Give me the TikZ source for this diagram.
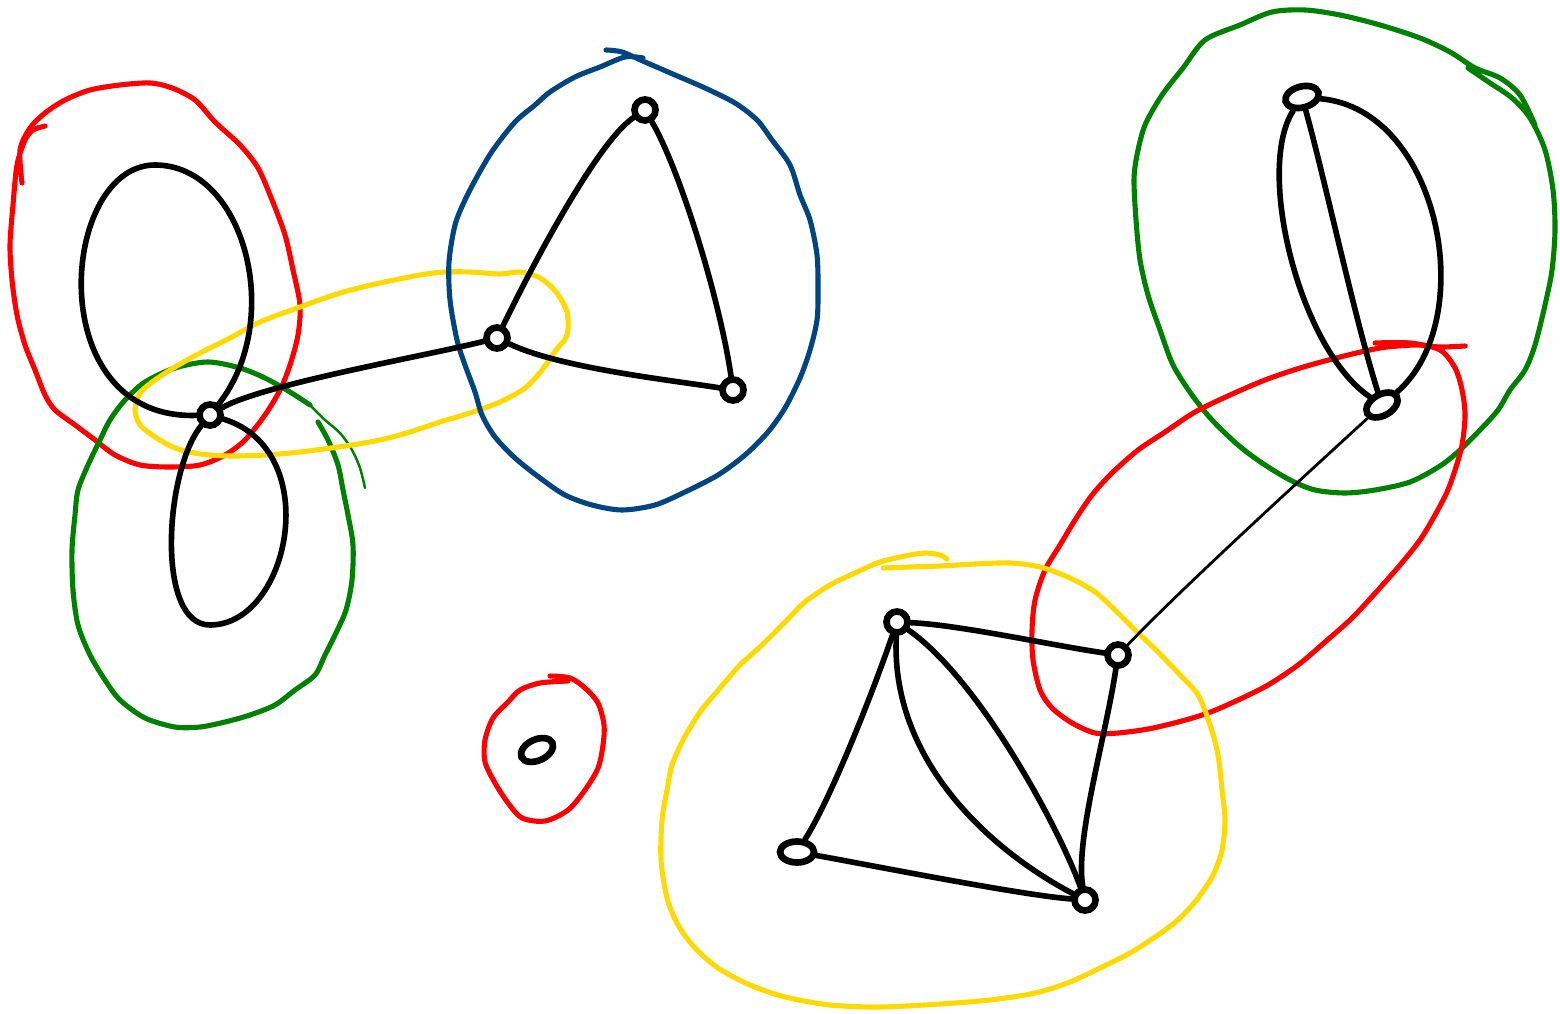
\documentclass[tikz,border=0pt]{standalone}
\usepackage{xcolor}
\usetikzlibrary{shapes.geometric}

\definecolor{penred}{RGB}{255,0,0}
\definecolor{pengreen}{RGB}{0,128,0}
\definecolor{penyellow}{RGB}{255,218,0}
\definecolor{penblue}{RGB}{0,68,128}

\begin{document}
\begin{tikzpicture}[scale=1.0,
    vtx/.style={circle,draw=black,line width=1.9pt,fill=white,inner sep=0pt,minimum size=2.1mm},
    vtxlong/.style={ellipse,draw=black,line width=1.9pt,fill=white,inner sep=0pt,minimum width=3.4mm,minimum height=2.1mm},
    edge/.style={black,line width=1.6pt,line cap=round},
    hyper/.style={line width=1.45pt,line cap=round,line join=round}]
    \useasboundingbox (0,0) rectangle (15.6,-10.14);
    % hyperedges, drawn freehand
    \draw[hyper,penred] plot[smooth] coordinates {(0.22,-1.83) (0.20,-1.50) (0.30,-1.28) (0.45,-1.13) (0.65,-1.00) (0.90,-0.90) (1.20,-0.85) (1.50,-0.83) (1.72,-0.88) (1.95,-1.00) (2.15,-1.22) (2.40,-1.45) (2.58,-1.68) (2.72,-2.00) (2.85,-2.35) (2.93,-2.70) (3.00,-3.05) (2.98,-3.35) (2.90,-3.65) (2.80,-3.90) (2.65,-4.15) (2.45,-4.40) (2.25,-4.55) (2.00,-4.65) (1.70,-4.67) (1.40,-4.65) (1.15,-4.55) (0.95,-4.40) (0.75,-4.25) (0.55,-4.10) (0.45,-3.95) (0.35,-3.70) (0.25,-3.45) (0.17,-3.15) (0.12,-2.80) (0.10,-2.45) (0.13,-2.05) (0.17,-1.65) (0.25,-1.40) (0.33,-1.30) (0.45,-1.26)};
    \draw[hyper,pengreen] plot[smooth] coordinates {(3.18,-4.22) (3.28,-4.40) (3.38,-4.65) (3.43,-4.90) (3.48,-5.15) (3.53,-5.45) (3.52,-5.80) (3.46,-6.10) (3.35,-6.35) (3.25,-6.55) (3.15,-6.75) (2.95,-6.90) (2.75,-7.05) (2.50,-7.15) (2.25,-7.22) (2.00,-7.27) (1.75,-7.27) (1.45,-7.18) (1.20,-7.00) (1.05,-6.80) (0.90,-6.55) (0.78,-6.25) (0.73,-5.90) (0.72,-5.50) (0.75,-5.15) (0.78,-4.90) (0.88,-4.65) (1.00,-4.40) (1.10,-4.20) (1.25,-4.00) (1.45,-3.82) (1.75,-3.68) (2.08,-3.62) (2.40,-3.68) (2.65,-3.78) (2.90,-3.92) (3.10,-4.05)};
    \draw[pengreen,line width=0.7pt,line cap=round] plot[smooth] coordinates {(3.10,-4.05) (3.25,-4.20) (3.40,-4.33) (3.52,-4.50) (3.60,-4.68) (3.65,-4.88)};
    \draw[hyper,penyellow] plot[smooth cycle] coordinates {(4.70,-2.72) (5.00,-2.74) (5.20,-2.72) (5.40,-2.78) (5.56,-2.92) (5.67,-3.12) (5.67,-3.35) (5.56,-3.50) (5.42,-3.70) (5.25,-3.88) (5.00,-4.02) (4.70,-4.13) (4.40,-4.22) (4.10,-4.32) (3.80,-4.40) (3.45,-4.46) (3.00,-4.52) (2.65,-4.55) (2.30,-4.56) (2.00,-4.54) (1.75,-4.48) (1.55,-4.37) (1.40,-4.25) (1.35,-4.10) (1.40,-3.93) (1.55,-3.80) (1.75,-3.67) (2.00,-3.53) (2.30,-3.38) (2.60,-3.22) (3.00,-3.07) (3.40,-2.93) (3.80,-2.83) (4.20,-2.75) (4.45,-2.72)};
    \draw[hyper,penblue] plot[smooth] coordinates {(6.06,-0.50) (6.22,-0.52) (6.45,-0.62) (6.75,-0.75) (7.05,-0.88) (7.35,-1.03) (7.57,-1.20) (7.72,-1.40) (7.90,-1.65) (8.00,-1.95) (8.10,-2.20) (8.17,-2.55) (8.18,-2.90) (8.17,-3.20) (8.10,-3.50) (8.00,-3.78) (7.85,-4.08) (7.68,-4.32) (7.45,-4.55) (7.18,-4.75) (6.85,-4.92) (6.55,-5.05) (6.22,-5.10) (5.92,-5.05) (5.65,-4.95) (5.40,-4.78) (5.15,-4.58) (4.95,-4.37) (4.82,-4.15) (4.75,-3.92) (4.65,-3.65) (4.57,-3.40) (4.50,-3.00) (4.49,-2.62) (4.55,-2.25) (4.65,-2.00) (4.78,-1.75) (4.93,-1.50) (5.15,-1.22) (5.35,-1.05) (5.50,-0.92) (5.75,-0.77) (6.00,-0.67) (6.25,-0.57) (6.43,-0.58)};
    \draw[hyper,penred] plot[smooth] coordinates {(5.50,-6.76) (5.70,-6.78) (5.85,-6.88) (5.98,-7.03) (6.04,-7.25) (6.03,-7.45) (5.98,-7.68) (5.85,-7.90) (5.68,-8.10) (5.45,-8.21) (5.22,-8.18) (5.08,-8.03) (4.95,-7.83) (4.85,-7.62) (4.85,-7.40) (4.93,-7.18) (5.08,-7.02) (5.20,-6.90) (5.40,-6.83) (5.68,-6.81)};
    \draw[hyper,pengreen] plot[smooth] coordinates {(14.68,-0.68) (14.90,-0.83) (15.12,-0.98) (15.30,-1.18) (15.45,-1.50) (15.53,-1.90) (15.55,-2.30) (15.52,-2.70) (15.45,-3.05) (15.35,-3.45) (15.25,-3.70) (15.10,-3.90) (14.98,-4.10) (14.80,-4.30) (14.60,-4.50) (14.40,-4.66) (14.10,-4.82) (13.75,-4.90) (13.45,-4.93) (13.15,-4.90) (12.90,-4.80) (12.62,-4.63) (12.38,-4.45) (12.12,-4.20) (11.92,-3.95) (11.73,-3.65) (11.60,-3.30) (11.48,-2.95) (11.40,-2.60) (11.36,-2.20) (11.34,-1.80) (11.37,-1.55) (11.45,-1.25) (11.62,-0.95) (11.83,-0.68) (12.05,-0.40) (12.40,-0.25) (12.72,-0.12) (13.05,-0.10) (13.40,-0.15) (13.80,-0.25) (14.20,-0.38) (14.50,-0.52) (14.75,-0.68) (15.00,-0.78) (15.20,-0.95) (15.35,-1.25)};
    \draw[hyper,penred] plot[smooth] coordinates {(13.75,-3.43) (14.10,-3.43) (14.40,-3.50) (14.55,-3.68) (14.62,-3.90) (14.65,-4.15) (14.62,-4.45) (14.55,-4.70) (14.47,-4.92) (14.35,-5.15) (14.20,-5.40) (14.00,-5.65) (13.78,-5.90) (13.52,-6.18) (13.25,-6.42) (12.98,-6.65) (12.68,-6.85) (12.38,-7.00) (12.08,-7.13) (11.78,-7.22) (11.48,-7.29) (11.18,-7.33) (10.95,-7.33) (10.72,-7.23) (10.52,-7.08) (10.40,-6.90) (10.33,-6.60) (10.32,-6.30) (10.35,-6.00) (10.45,-5.70) (10.60,-5.45) (10.75,-5.20) (10.92,-4.95) (11.12,-4.73) (11.38,-4.50) (11.65,-4.32) (11.95,-4.12) (12.30,-3.95) (12.65,-3.80) (13.00,-3.68) (13.40,-3.57) (13.80,-3.48) (14.15,-3.45) (14.40,-3.47) (14.65,-3.46)};
    \draw[hyper,penyellow] plot[smooth] coordinates {(8.83,-5.68) (9.10,-5.67) (9.40,-5.66) (9.75,-5.64) (10.10,-5.63) (10.40,-5.67) (10.70,-5.78) (10.95,-5.92) (11.15,-6.10) (11.35,-6.30) (11.58,-6.52) (11.80,-6.75) (11.98,-6.95) (12.10,-7.25) (12.18,-7.55) (12.22,-7.90) (12.25,-8.20) (12.22,-8.50) (12.13,-8.75) (11.98,-8.98) (11.80,-9.18) (11.58,-9.35) (11.30,-9.53) (11.00,-9.68) (10.70,-9.82) (10.35,-9.93) (9.90,-10.00) (9.40,-10.04) (8.80,-10.07) (8.30,-10.05) (7.85,-9.97) (7.50,-9.85) (7.18,-9.68) (6.95,-9.48) (6.78,-9.25) (6.67,-8.98) (6.61,-8.60) (6.62,-8.20) (6.67,-7.90) (6.72,-7.65) (6.83,-7.40) (7.00,-7.12) (7.20,-6.88) (7.40,-6.65) (7.62,-6.45) (7.85,-6.22) (8.05,-6.02) (8.30,-5.85) (8.57,-5.72) (8.80,-5.62) (9.05,-5.56) (9.25,-5.53) (9.40,-5.55) (9.47,-5.59)};
    % vertices
    \node[vtx] (a) at (2.10,-4.15) {};
    \node[vtx] (b) at (4.97,-3.38) {};
    \node[vtx] (c) at (6.45,-1.10) {};
    \node[vtx] (d) at (7.33,-3.90) {};
    \node[vtxlong,rotate=25] (e) at (5.37,-7.50) {};
    \node[vtxlong,rotate=15] (f) at (13.02,-0.97) {};
    \node[vtxlong,rotate=30] (g) at (13.82,-4.05) {};
    \node[vtx] (h) at (8.97,-6.22) {};
    \node[vtx] (i) at (11.18,-6.55) {};
    \node[vtxlong] (j) at (7.97,-8.52) {};
    \node[vtx] (k) at (10.85,-9.00) {};
    % edges
    \draw[edge] (a) .. controls (0.40,-4.20) and (0.60,-1.65) .. (1.55,-1.65)
                    .. controls (2.45,-1.65) and (2.85,-3.20) .. (a);
    \draw[edge] (a) .. controls (1.65,-4.70) and (1.55,-6.25) .. (2.10,-6.25)
                    .. controls (2.90,-6.25) and (3.25,-4.50) .. (a);
    \draw[edge] (a) .. controls (2.60,-3.85) and (4.30,-3.55) .. (b);
    \draw[edge] (b) .. controls (5.40,-2.50) and (6.00,-1.40) .. (c);
    \draw[edge] (c) .. controls (6.80,-1.70) and (7.20,-3.00) .. (d);
    \draw[edge] (b) .. controls (5.60,-3.68) and (6.70,-3.80) .. (d);
    \draw[edge] (f) .. controls (12.55,-1.70) and (13.00,-3.50) .. (g);
    \draw[edge] (f) .. controls (13.25,-1.80) and (13.55,-3.20) .. (g);
    \draw[edge] (f) .. controls (14.40,-1.10) and (14.80,-3.20) .. (g);
    \draw[edge,line width=0.8pt] (g) .. controls (13.00,-4.80) and (11.80,-5.90) .. (i);
    \draw[edge] (i) .. controls (10.50,-6.45) and (9.60,-6.25) .. (h);
    \draw[edge] (h) .. controls (8.70,-7.00) and (8.30,-8.00) .. (j);
    \draw[edge] (h) .. controls (9.80,-6.80) and (10.60,-8.30) .. (k);
    \draw[edge] (h) .. controls (8.90,-7.60) and (9.90,-8.50) .. (k);
    \draw[edge] (j) .. controls (8.70,-8.65) and (10.20,-8.95) .. (k);
    \draw[edge] (i) .. controls (11.05,-7.40) and (10.75,-8.40) .. (k);
\end{tikzpicture}
\end{document}
